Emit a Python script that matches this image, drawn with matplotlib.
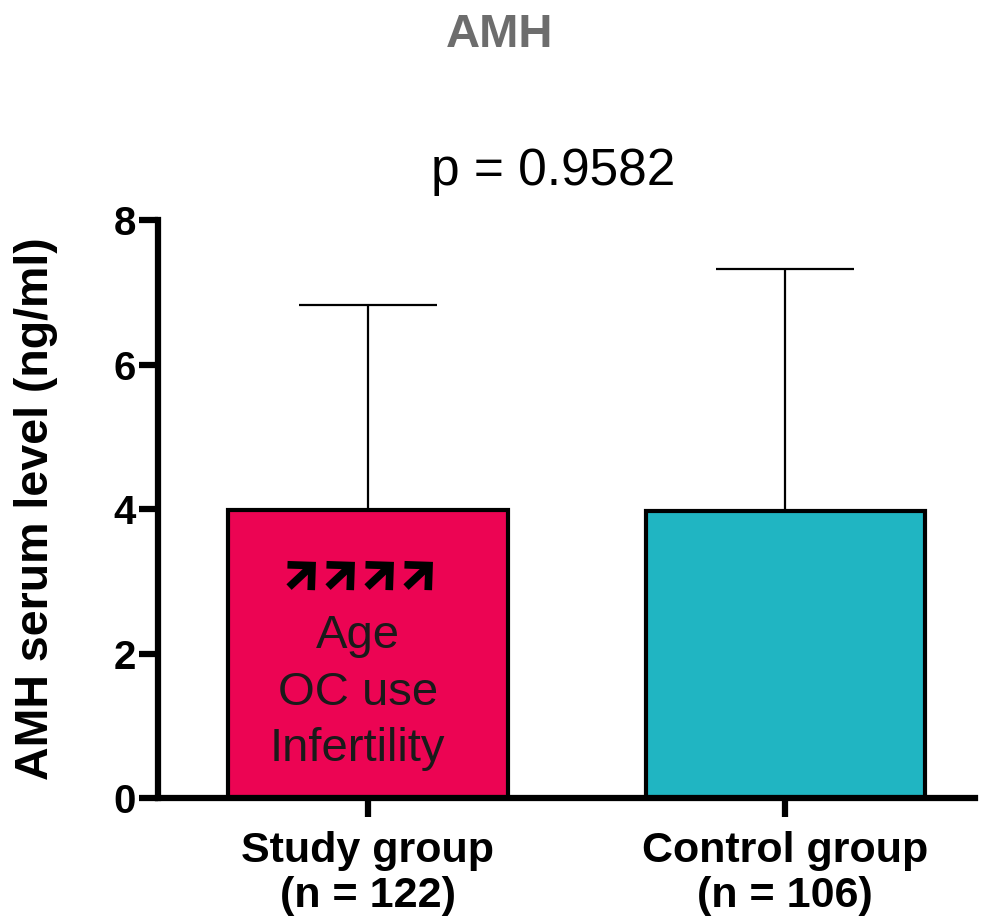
import matplotlib
matplotlib.use("Agg")
import matplotlib.pyplot as plt

categories = ["Study group\n(n = 122)", "Control group\n(n = 106)"]
means = [3.98, 3.97]
sd_upper = [2.84, 3.35]
colors = ["#EC0453", "#20B5C2"]
y_ticks = [0, 2, 4, 6, 8]
p_text = "p = 0.9582"
title = "AMH"
ylabel = "AMH serum level (ng/ml)"
bar_note = "Age\nOC use\nInfertility"
n_arrows = 4

plt.rcParams['font.family'] = ['Liberation Sans', 'DejaVu Sans']

W, H = 981, 918
fig = plt.figure(figsize=(W / 100, H / 100), dpi=100)
ax = fig.add_axes([0.161, 0.1307, 0.833, 0.6296])

x = list(range(len(categories)))
ax.bar(x, means, width=0.669, color=colors, edgecolor="black", linewidth=3, zorder=2)
ax.errorbar(x, means, yerr=[[0]*len(means), sd_upper], fmt="none", ecolor="black",
            elinewidth=1.6, capsize=50, capthick=1.6, zorder=1)

ax.set_xlim(-0.5036, 1.4556)
ax.set_ylim(0, 8)
ax.set_yticks(y_ticks)
ax.set_xticks(x)
ax.set_xticklabels(categories, fontsize=31, fontweight="bold", linespacing=1.15)
ax.set_yticklabels([str(t) for t in y_ticks], fontsize=29, fontweight="bold")
for s in ["top", "right"]:
    ax.spines[s].set_visible(False)
for s in ["left", "bottom"]:
    ax.spines[s].set_linewidth(4.5)
ax.tick_params(axis="both", direction="out", length=14, width=4.5, pad=2)
ax.tick_params(axis="x", pad=10)

ax.set_ylabel(ylabel, fontsize=33.5, fontweight="bold", labelpad=40)

fig.text(0.5095, 0.962, title, ha="center", va="center", fontsize=34, fontweight="bold", color="#6d6d6d")
fig.text(0.5637, 0.813, p_text, ha="center", va="center", fontsize=37)

# decorative up-arrows inside the study bar
for i in range(n_arrows):
    x0 = (287 + 39 * i) / W
    fig.add_artist(matplotlib.patches.FancyArrowPatch(
        (x0, 1 - 589 / H), (x0 + 31 / W, 1 - 560 / H), transform=fig.transFigure,
        arrowstyle="->,head_length=0.5,head_width=0.5", mutation_scale=25,
        lw=5.5, color="black", capstyle="butt", joinstyle="miter", zorder=5))

ax.text(x[0] - 0.025, 1.46, bar_note, ha="center", va="center", fontsize=34,
        linespacing=1.37, color="#1a1a1a")

fig.savefig("out.png", dpi=100)
